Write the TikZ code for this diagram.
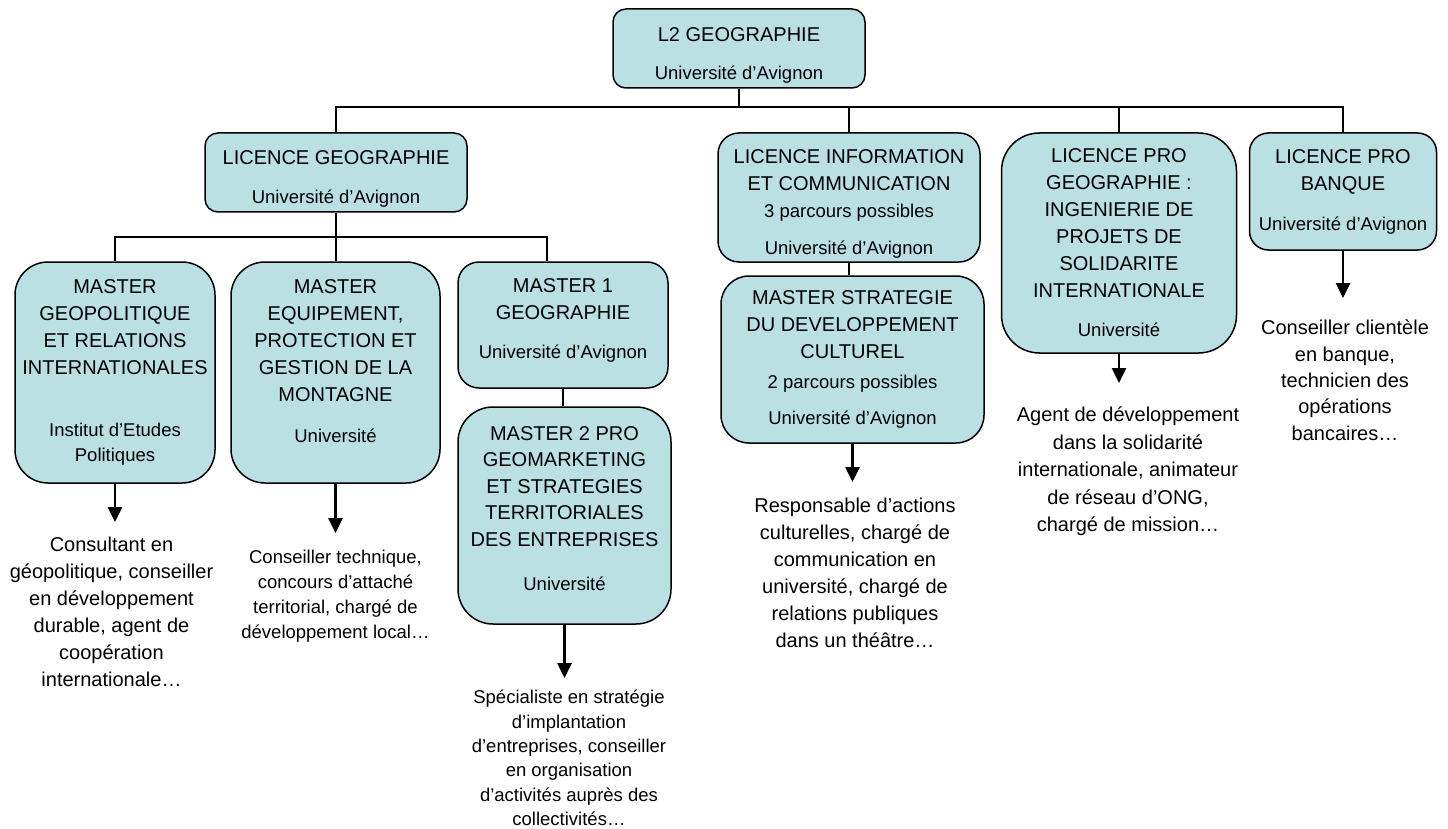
\documentclass[tikz,border=0pt]{standalone}
\usepackage{fontspec}
\setmainfont{Liberation Sans}
\usetikzlibrary{arrows.meta}
\definecolor{boxblue}{RGB}{187,224,227}
\newcommand{\subfont}{\fontsize{18.5}{25}\selectfont}
\tikzset{
  box/.style={draw, fill=boxblue, line width=1.5pt, align=center, inner sep=3pt,
    font=\fontsize{20}{27}\selectfont},
  job/.style={align=center, anchor=north, inner sep=0pt},
  link/.style={line width=2.2pt},
  toward/.style={line width=2.6pt, -{Triangle[width=14pt,length=15pt]}}
}
\begin{document}
\begin{tikzpicture}[x=1pt, y=-1pt]
  \useasboundingbox (0,0) rectangle (1448,829);
  % Boxes
  \node[box, minimum width=252, minimum height=79, rounded corners=13pt] (l2) at (739,48.5)
    {\mbox{}\\L2 GEOGRAPHIE\\[11pt]{\subfont Université d’Avignon}};
  \node[box, minimum width=262, minimum height=79, rounded corners=13pt] (lgeo) at (336,172.5)
    {\mbox{}\\LICENCE GEOGRAPHIE\\[12pt]{\subfont Université d’Avignon}};
  \node[box, minimum width=262, minimum height=129, rounded corners=21pt] (linfo) at (849,197.5)
    {\mbox{}\\LICENCE INFORMATION\\ET COMMUNICATION\\{\subfont 3 parcours possibles}\\[10pt]{\subfont Université d’Avignon}};
  \node[box, minimum width=235, minimum height=220, rounded corners=38pt] (lprogeo) at (1119,243)
    {LICENCE PRO\\GEOGRAPHIE :\\INGENIERIE DE\\PROJETS DE\\SOLIDARITE\\INTERNATIONALE\\[12pt]{\subfont Université}};
  \node[box, minimum width=187, minimum height=117, rounded corners=19pt] (lbanque) at (1343,191.5)
    {LICENCE PRO\\BANQUE\\[13pt]{\subfont Université d’Avignon}};
  \node[box, minimum width=200, minimum height=221, rounded corners=33pt] (mgeo) at (115,372.5)
    {MASTER\\GEOPOLITIQUE\\ET RELATIONS\\INTERNATIONALES\\[35pt]{\subfont Institut d’Etudes}\\[-2pt]{\subfont Politiques}};
  \node[box, minimum width=209, minimum height=221, rounded corners=34pt] (mequip) at (335.5,372.5)
    {MASTER\\EQUIPEMENT,\\PROTECTION ET\\GESTION DE LA\\MONTAGNE\\[14pt]{\subfont Université}\\[-5pt]\mbox{}};
  \node[box, minimum width=210, minimum height=126, rounded corners=21pt] (m1) at (563,325)
    {MASTER 1\\GEOGRAPHIE\\[12pt]{\subfont Université d’Avignon}\\[-14pt]\mbox{}};
  \node[box, minimum width=213, minimum height=217, rounded corners=35pt] (m2) at (564.5,515.5)
    {MASTER 2 PRO\\[-0.5pt]GEOMARKETING\\[-0.5pt]ET STRATEGIES\\[-0.5pt]TERRITORIALES\\[-0.5pt]DES ENTREPRISES\\[17pt]{\subfont Université}\\[-13pt]\mbox{}};
  \node[box, minimum width=263, minimum height=167, rounded corners=28pt] (mstrat) at (852.5,359.5)
    {MASTER STRATEGIE\\DU DEVELOPPEMENT\\CULTUREL\\[3pt]{\subfont 2 parcours possibles}\\[9pt]{\subfont Université d’Avignon}};
  % Jobs
  \node[job, font=\fontsize{20}{27}\selectfont] (ogeo) at (111.5,537)
    {Consultant en\\géopolitique, conseiller\\en développement\\durable, agent de\\coopération\\internationale…};
  \node[job, font=\fontsize{18.5}{25}\selectfont] (oequip) at (335.5,550)
    {Conseiller technique,\\concours d’attaché\\territorial, chargé de\\développement local…};
  \node[job, font=\fontsize{18.5}{24.3}\selectfont] (om2) at (569,690)
    {Spécialiste en stratégie\\d’implantation\\d’entreprises, conseiller\\en organisation\\d’activités auprès des\\collectivités…};
  \node[job, font=\fontsize{20}{27}\selectfont] (ostrat) at (855,498)
    {Responsable d’actions\\culturelles, chargé de\\communication en\\université, chargé de\\relations publiques\\dans un théâtre…};
  \node[job, font=\fontsize{20}{27.5}\selectfont] (oprogeo) at (1128,407)
    {Agent de développement\\dans la solidarité\\internationale, animateur\\de réseau d’ONG,\\chargé de mission…};
  \node[job, font=\fontsize{20}{26.3}\selectfont] (obanque) at (1345,320)
    {Conseiller clientèle\\en banque,\\technicien des\\opérations\\bancaires…};
  % Tree lines
  \coordinate (bus1) at (739,107);
  \coordinate (bus2) at (336,237);
  \draw[link] (l2.south) -- (l2.south |- bus1);
  \foreach \n in {lgeo,linfo,lprogeo,lbanque}
    \draw[link] (\n.north) |- (bus1);
  \draw[link] (lgeo.south) -- (lgeo.south |- mequip.north);
  \draw[link] (mgeo.north) |- (bus2);
  \draw[link] ([xshift=-16pt]m1.north) |- (bus2);
  \draw[link] (m1.south) -- (m1.south |- m2.north);
  \draw[link] (linfo.south) -- (linfo.south |- mstrat.north);
  % Arrows
  \foreach \a/\b/\s in {mgeo/ogeo/15, mequip/oequip/17, m2/om2/12,
                        mstrat/ostrat/16, lprogeo/oprogeo/24, lbanque/obanque/22}
    \draw[toward, shorten >=\s pt] (\a.south) -- (\a.south |- \b.north);
\end{tikzpicture}
\end{document}
